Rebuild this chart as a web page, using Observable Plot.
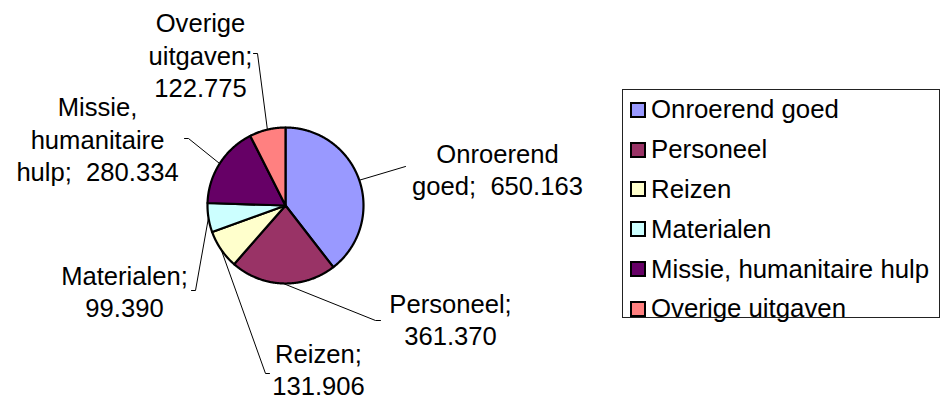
<!DOCTYPE html>
<html><head><meta charset="utf-8">
<script src="https://cdn.jsdelivr.net/npm/d3@7"></script>
<script src="https://cdn.jsdelivr.net/npm/@observablehq/plot@0.6"></script>
<style>
body{margin:0;background:#fff;}
#wrap{position:relative;width:942px;height:401px;overflow:hidden;font-family:"Liberation Sans",Arial,sans-serif;background:#fff;}
#chart{position:absolute;left:0;top:0;}
#legend{position:absolute;left:622px;top:89px;width:318px;height:229px;border:1px solid #222;box-sizing:border-box;}
#legend .lg-swatches{font-family:"Liberation Sans",Arial,sans-serif;font-size:25.8px;margin:0;padding:0 0 0 8px;color:#000;min-height:0;}
#legend .lg-swatch{height:39.8px;padding:0;margin:0;display:flex;align-items:center;}
#legend .lg-swatch > svg{margin-right:6px;overflow:visible;}
#legend .lg-swatch rect{stroke:#000;stroke-width:2px;}
</style></head><body>
<div id="wrap"><div id="chart"></div><div id="legend"></div></div>
<script>
// ---- data ----
const categories = ["Onroerend goed", "Personeel", "Reizen", "Materialen", "Missie, humanitaire hulp", "Overige uitgaven"];
const values = [650163, 361370, 131906, 99390, 280334, 122775];
const colors = ["#9999FF", "#993366", "#FFFFCC", "#CCFFFF", "#660066", "#FF8080"];
const labelNames = ["Onroerend\ngoed", "Personeel", "Reizen", "Materialen", "Missie,\nhumanitaire\nhulp", "Overige\nuitgaven"];
const labelSep = ["\u00a0 ", "\n", "\n", "\n", "\u00a0 ", "\n"];

// ---- layout (pixels, relative to the pie centre) ----
const W = 942, H = 401, CX = 285, CY = 205, R = 78;
const leaderEnd = [[120, -39], [90, 115], [-20, 168], [-90, 85], [-97, -67], [-28, -152]];
const leaderTick = [0, 5, 4, -4, -4, -4];
const labelCenter = [[212, -37], [165, 113], [33, 163], [-161, 85], [-188, -67], [-85, -151]];

const fmt = d3.formatLocale({decimal: ",", thousands: ".", grouping: [3], currency: ["", ""]}).format(",d");
const arcs = d3.pie().sort(null).value(d => d)(values);

const slicePts = [];
arcs.forEach((p, i) => {
  const cat = categories[i];
  slicePts.push({cat, x: 0, y: 0});
  const n = Math.max(2, Math.ceil((p.endAngle - p.startAngle) / (Math.PI / 360)));
  for (let k = 0; k <= n; k++) {
    const a = p.startAngle + (p.endAngle - p.startAngle) * k / n;
    slicePts.push({cat, x: R * Math.sin(a), y: -R * Math.cos(a)});
  }
});

const leaderPts = [];
arcs.forEach((p, i) => {
  const cat = categories[i];
  const m = (p.startAngle + p.endAngle) / 2;
  const [ex, ey] = leaderEnd[i];
  leaderPts.push({cat, x: R * Math.sin(m), y: -R * Math.cos(m)});
  leaderPts.push({cat, x: ex, y: ey});
  if (leaderTick[i]) leaderPts.push({cat, x: ex + leaderTick[i], y: ey});
});

const labels = categories.map((c, i) => ({
  cat: c,
  x: labelCenter[i][0],
  y: labelCenter[i][1],
  text: labelNames[i] + ";" + labelSep[i] + fmt(values[i])
}));

const chart = Plot.plot({
  width: W, height: H, margin: 0,
  style: {background: "transparent", fontFamily: "'Liberation Sans', Arial, sans-serif"},
  x: {domain: [-CX, W - CX], range: [0, W], axis: null},
  y: {domain: [-CY, H - CY], range: [0, H], axis: null},
  color: {domain: categories, range: colors},
  marks: [
    Plot.line(leaderPts, {x: "x", y: "y", z: "cat", stroke: "#000", strokeWidth: 1, curve: "linear"}),
    Plot.line(slicePts, {x: "x", y: "y", z: "cat", fill: "cat", stroke: "#000", strokeWidth: 2.2, strokeLinejoin: "round", curve: "linear-closed"}),
    Plot.text(labels, {x: "x", y: "y", text: "text", fontSize: 25.6, lineHeight: 1.27, textAnchor: "middle", lineAnchor: "middle", fill: "#000"})
  ]
});
document.getElementById("chart").appendChild(chart);

const legend = Plot.legend({
  color: {domain: categories, range: colors},
  legend: "swatches",
  columns: 1,
  swatchSize: 14,
  className: "lg"
});
document.getElementById("legend").appendChild(legend);
</script>
</body></html>
